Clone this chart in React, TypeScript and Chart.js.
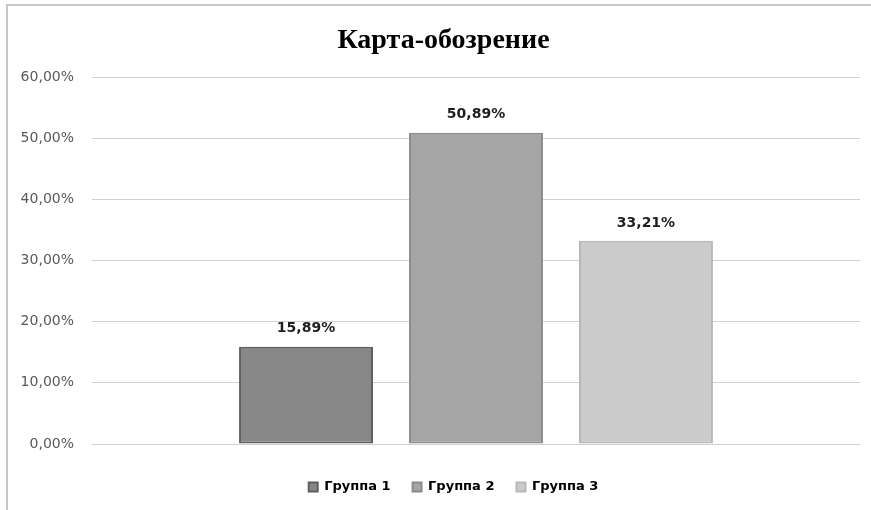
import React, { useEffect, useRef } from "react";
import { Chart, registerables } from "chart.js";

Chart.register(...registerables);

const categories = [""];
const seriesNames = ["Группа 1", "Группа 2", "Группа 3"];
const seriesValues = [0.1589, 0.5089, 0.3321];
const fillColors = ["#878787", "#a5a5a5", "#cbcbcb"];
const borderColors = ["#5f5f5f", "#8c8c8c", "#b8b8b8"];
const yTicks = [0, 0.1, 0.2, 0.3, 0.4, 0.5, 0.6];
const titleText = "Карта-обозрение";

const fmt = (v: number) => (v * 100).toFixed(2).replace(".", ",") + "%";

const valueLabels = {
  id: "valueLabels",
  afterDatasetsDraw(chart: any) {
    const ctx = chart.ctx;
    ctx.save();
    ctx.font = "bold 14px 'DejaVu Sans'";
    ctx.fillStyle = "#1e1e1e";
    ctx.textAlign = "center";
    ctx.textBaseline = "middle";
    chart.data.datasets.forEach((ds: any, i: number) => {
      const meta = chart.getDatasetMeta(i);
      meta.data.forEach((bar: any, j: number) => {
        ctx.fillText(fmt(ds.data[j]), bar.x, bar.y - 18);
      });
    });
    ctx.restore();
  },
};

const shiftBoxes = {
  id: "shiftBoxes",
  afterLayout(chart: any) {
    if (chart.legend) {
      chart.legend.left += 13;
      chart.legend.right += 13;
    }
    if (chart.titleBlock) {
      chart.titleBlock.left += 3;
      chart.titleBlock.right += 3;
    }
  },
};

export default function App() {
  const ref = useRef<HTMLCanvasElement>(null);
  useEffect(() => {
    if (!ref.current) return;
    const chart = new Chart(ref.current, {
      type: "bar",
      data: {
        labels: categories,
        datasets: seriesNames.map((name, i) => ({
          label: name,
          data: [seriesValues[i]],
          backgroundColor: fillColors[i],
          borderColor: borderColors[i],
          borderWidth: 2,
          borderSkipped: false,
          categoryPercentage: 0.664,
          barPercentage: 0.788,
        })),
      },
      options: {
        responsive: false,
        animation: false,
        layout: { padding: { left: 13, right: 11, top: 0, bottom: 6.5 } },
        plugins: {
          title: {
            display: true,
            text: titleText,
            font: { family: "'Liberation Serif'", size: 28, weight: "bold" },
            color: "#000",
            padding: { top: 18, bottom: 19.4 },
          },
          legend: {
            position: "bottom",
            labels: {
              boxWidth: 9,
              boxHeight: 9,
              padding: 22,
              color: "#000",
              font: { family: "'DejaVu Sans'", size: 13, weight: "bold", lineHeight: 1 },
            },
          },
          tooltip: { enabled: false },
        },
        scales: {
          x: {
            grid: { display: false },
            border: { display: false },
            ticks: { display: false },
            afterFit: (s: any) => {
              s.height = 14.5;
            },
          },
          y: {
            min: 0,
            max: 0.6,
            afterBuildTicks: (s: any) => {
              s.ticks = yTicks.map((v) => ({ value: v }));
            },
            grid: { color: "#d0d0d0", drawTicks: false, lineWidth: 1 },
            border: { display: false },
            ticks: {
              padding: 18,
              color: "#595959",
              font: { family: "'DejaVu Sans'", size: 14 },
              callback: (v: any) => fmt(Number(v)),
            },
            afterFit: (s: any) => {
              s.width = 71;
            },
          },
        },
      },
      plugins: [valueLabels, shiftBoxes],
    });
    return () => chart.destroy();
  }, []);
  return (
    <div style={{ position: "fixed", left: 0, top: 0, width: 871, height: 510, background: "#fff" }}>
      <div
        style={{
          position: "absolute",
          left: 6,
          top: 4,
          right: 0,
          bottom: 0,
          borderLeft: "2px solid #c8c8c8",
          borderTop: "2px solid #c8c8c8",
        }}
      />
      <canvas ref={ref} width={863} height={504} style={{ position: "absolute", left: 8, top: 6 }} />
    </div>
  );
}
